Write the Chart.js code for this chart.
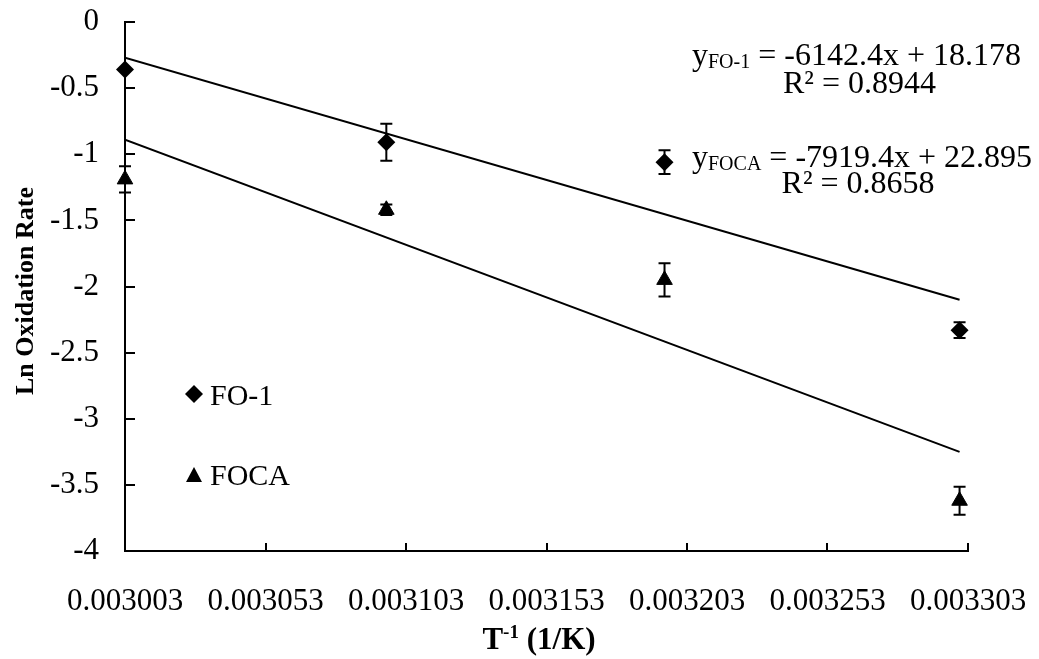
<!DOCTYPE html>
<html>
<head>
<meta charset="utf-8">
<script src="https://cdn.jsdelivr.net/npm/chart.js@4.4.1/dist/chart.umd.min.js"></script>
<style>
  html, body { margin: 0; padding: 0; background: #fff; }
  #wrap { width: 1039px; height: 659px; }
</style>
</head>
<body>
<div id="wrap"><canvas id="chart" width="1039" height="659"></canvas></div>
<script>
// data
const invTemp = [0.003003, 0.003096, 0.003195, 0.003300];
const fo1Ln = [-0.36, -0.91, -1.06, -2.33];
const fo1Err = [0, 0.14, 0.09, 0.06];
const focaLn = [-1.19, -1.42, -1.95, -3.62];
const focaErr = [0.10, 0.04, 0.125, 0.105];
const fitX = [0.003003, 0.003300];
const fo1Fit = [-0.27, -2.10];
const focaFit = [-0.89, -3.25];
const xTickLabels = ['0.003003', '0.003053', '0.003103', '0.003153', '0.003203', '0.003253', '0.003303'];
const yTickLabels = ['-4', '-3.5', '-3', '-2.5', '-2', '-1.5', '-1', '-0.5', '0'];

const FONT = "'Liberation Serif', 'Times New Roman', serif";

const toPoints = (xs, ys) => xs.map((x, i) => ({ x: x, y: ys[i] }));

// little helper for "y" + subscript + rest
function drawEq(ctx, x, y, sub, rest) {
    ctx.font = '32px ' + FONT;
    ctx.fillText('y', x, y);
    let w = ctx.measureText('y').width;
    ctx.font = '20px ' + FONT;
    ctx.fillText(sub, x + w, y + 3);
    w += ctx.measureText(sub).width;
    ctx.font = '32px ' + FONT;
    ctx.fillText(rest, x + w, y);
    return w + ctx.measureText(rest).width;
}

const extras = {
    id: 'extras',
    afterDatasetsDraw(chart) {
        const ctx = chart.ctx;
        const xs = chart.scales.x, ys = chart.scales.y;
        const area = chart.chartArea;
        ctx.save();
        ctx.strokeStyle = '#000';
        ctx.lineWidth = 2;

        // inside ticks
        ys.ticks.forEach(t => {
            const py = Math.round(ys.getPixelForValue(t.value));
            ctx.beginPath();
            ctx.moveTo(area.left, py);
            ctx.lineTo(area.left + 10, py);
            ctx.stroke();
        });
        xs.ticks.forEach(t => {
            const px = Math.round(xs.getPixelForValue(t.value));
            ctx.beginPath();
            ctx.moveTo(px, area.bottom);
            ctx.lineTo(px, area.bottom - 8);
            ctx.stroke();
        });

        // error bars
        [[0, fo1Ln, fo1Err], [1, focaLn, focaErr]].forEach(([idx, vals, errs]) => {
            const meta = chart.getDatasetMeta(idx);
            meta.data.forEach((pt, i) => {
                if (!errs[i]) return;
                const top = ys.getPixelForValue(vals[i] + errs[i]);
                const bot = ys.getPixelForValue(vals[i] - errs[i]);
                ctx.beginPath();
                ctx.moveTo(pt.x, top);
                ctx.lineTo(pt.x, bot);
                ctx.moveTo(pt.x - 6, top);
                ctx.lineTo(pt.x + 6, top);
                ctx.moveTo(pt.x - 6, bot);
                ctx.lineTo(pt.x + 6, bot);
                ctx.stroke();
            });
        });
        ctx.restore();
    },
    afterDraw(chart) {
        const ctx = chart.ctx;
        ctx.save();
        ctx.fillStyle = '#000';
        ctx.textBaseline = 'alphabetic';
        ctx.textAlign = 'left';

        // equations
        const w1 = drawEq(ctx, 692, 65, 'FO-1', ' = -6142.4x + 18.178');
        ctx.textAlign = 'center';
        ctx.font = '32px ' + FONT;
        ctx.fillText('R\u00b2 = 0.8944', 692 + w1 / 2 + 3, 93);
        ctx.textAlign = 'left';
        const w2 = drawEq(ctx, 692, 167, 'FOCA', ' = -7919.4x + 22.895');
        ctx.textAlign = 'center';
        ctx.font = '32px ' + FONT;
        ctx.fillText('R\u00b2 = 0.8658', 692 + w2 / 2 - 4, 193);

        // legend
        ctx.textAlign = 'left';
        ctx.font = '30px ' + FONT;
        ctx.beginPath();
        ctx.moveTo(194, 385); ctx.lineTo(203, 394); ctx.lineTo(194, 403); ctx.lineTo(185, 394);
        ctx.closePath(); ctx.fill();
        ctx.fillText('FO-1', 210, 405);
        ctx.beginPath();
        ctx.moveTo(194, 467); ctx.lineTo(202, 482); ctx.lineTo(186, 482);
        ctx.closePath(); ctx.fill();
        ctx.fillText('FOCA', 210, 485);

        // x title with superscript
        ctx.font = 'bold 31px ' + FONT;
        const a = 'T', b = '-1', c = ' (1/K)';
        const wa = ctx.measureText(a).width, wc = ctx.measureText(c).width;
        ctx.font = 'bold 19px ' + FONT;
        const wb = ctx.measureText(b).width;
        let x0 = 539 - (wa + wb + wc) / 2;
        ctx.font = 'bold 31px ' + FONT;
        ctx.fillText(a, x0, 649);
        ctx.font = 'bold 19px ' + FONT;
        ctx.fillText(b, x0 + wa, 638);
        ctx.font = 'bold 31px ' + FONT;
        ctx.fillText(c, x0 + wa + wb, 649);

        // y title
        ctx.translate(33, 291);
        ctx.rotate(-Math.PI / 2);
        ctx.textAlign = 'center';
        ctx.font = 'bold 26px ' + FONT;
        ctx.fillText('Ln Oxidation Rate', 0, 0);
        ctx.restore();
    }
};

new Chart(document.getElementById('chart'), {
    type: 'scatter',
    data: {
        datasets: [
            {
                label: 'FO-1',
                data: toPoints(invTemp, fo1Ln),
                pointStyle: 'rectRot',
                pointRadius: 9,
                pointBackgroundColor: '#000',
                pointBorderColor: '#000',
                pointBorderWidth: 0,
                clip: false
            },
            {
                label: 'FOCA',
                data: toPoints(invTemp, focaLn),
                pointStyle: 'triangle',
                pointRadius: 9,
                pointBackgroundColor: '#000',
                pointBorderColor: '#000',
                pointBorderWidth: 1,
                clip: false
            },
            {
                label: 'FO-1 fit',
                data: toPoints(fitX, fo1Fit),
                showLine: true,
                borderColor: '#000',
                borderWidth: 2,
                pointRadius: 0
            },
            {
                label: 'FOCA fit',
                data: toPoints(fitX, focaFit),
                showLine: true,
                borderColor: '#000',
                borderWidth: 2,
                pointRadius: 0
            }
        ]
    },
    options: {
        responsive: false,
        animation: false,
        layout: { padding: { top: 22, right: 71, left: 0, bottom: 0 } },
        plugins: { legend: { display: false }, tooltip: { enabled: false } },
        scales: {
            x: {
                type: 'linear',
                min: 0.003003,
                max: 0.003303,
                // invisible tick marks only push the labels down
                grid: { display: false, drawTicks: true, tickLength: 32 },
                border: { display: true, color: '#000', width: 2 },
                ticks: {
                    stepSize: 0.00005,
                    color: '#000',
                    padding: 0,
                    maxRotation: 0,
                    autoSkip: false,
                    font: { family: FONT, size: 31 },
                    callback: (v, i) => xTickLabels[i]
                },
                afterFit: (s) => { s.height = 108; }
            },
            y: {
                min: -4,
                max: 0,
                grid: { display: false, drawTicks: true, tickLength: 26 },
                border: { display: true, color: '#000', width: 2 },
                ticks: {
                    stepSize: 0.5,
                    color: '#000',
                    padding: 0,
                    font: { family: FONT, size: 31 },
                    callback: (v, i) => yTickLabels[i]
                },
                afterFit: (s) => { s.width = 125; }
            }
        }
    },
    plugins: [extras]
});
</script>
</body>
</html>
